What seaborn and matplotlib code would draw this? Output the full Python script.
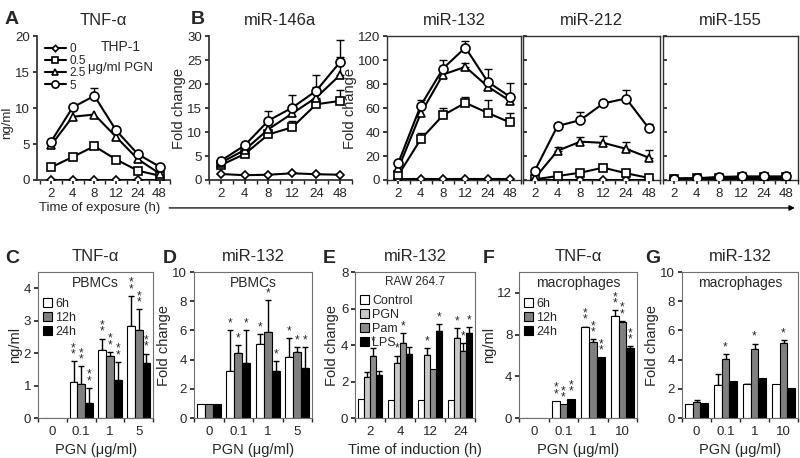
import numpy as np
import pandas as pd
import matplotlib.pyplot as plt
import seaborn as sns
from matplotlib.patches import Patch, FancyArrowPatch

sns.set_theme(style="ticks")
plt.rcParams["font.family"] = ["Liberation Sans", "DejaVu Sans"]
plt.rcParams["axes.edgecolor"] = "#303030"

nan = np.nan

# ---- top row: time course in THP-1 ----
times = ["2", "4", "8", "12", "24", "48"]
doses = ["0", "0.5", "2.5", "5"]
markers = ["D", "s", "^", "o"]
msizes = [4, 6, 6, 6.5]

tnf_thp1 = [
    [0, 0, 0, 0, 0, 0],
    [1.75, 3.2, 4.7, 2.85, 1.3, 0.6],
    [4.8, 8.8, 9.1, 6.0, 2.9, 0.9],
    [5.3, 10.1, 11.7, 6.9, 3.6, 1.85],
]
tnf_thp1_top = [
    [nan] * 6,
    [nan, nan, 4.95, nan, nan, nan],
    [nan, nan, nan, nan, nan, nan],
    [nan, nan, 12.8, nan, nan, nan],
]

mir146 = [
    [1.25, 1.0, 1.1, 1.4, 1.2, 1.1],
    [3.1, 5.4, 9.5, 11.0, 15.8, 16.5],
    [3.6, 6.25, 10.6, 13.9, 17.2, 21.9],
    [4.0, 7.2, 12.4, 15.1, 18.6, 24.6],
]
mir146_top = [
    [nan] * 6,
    [nan, nan, nan, 12.3, nan, 18.7],
    [nan, nan, nan, nan, 19.3, 25.7],
    [nan, 7.9, 14.4, 17.8, 22.0, 29.2],
]

mir132 = [
    [0.5, 0.5, 0.5, 0.5, 0.5, 0.5],
    [4.2, 34, 54, 64.4, 56, 48],
    [9.7, 55.5, 88, 94.4, 78, 66],
    [14.4, 62, 93, 110.5, 82, 69.4],
]
mir132_top = [
    [nan] * 6,
    [nan, 39, 59.7, 69.4, 67, 56],
    [nan, nan, nan, 98, nan, nan],
    [nan, 66.7, 100, 116, 93, 81],
]

mir212 = [
    [0.3, 0.3, 0.3, 0.3, 0.3, 0.3],
    [0.5, 3.3, 6.1, 10.3, 5.6, 1.7],
    [1.4, 24.4, 32, 31, 26, 18.6],
    [7.5, 45, 50, 63.9, 68, 43],
]
mir212_top = [
    [nan] * 6,
    [nan, nan, nan, 13.3, 8.3, nan],
    [nan, 27.8, 35.5, 37, 31.4, 25],
    [nan, nan, 57, nan, 75, 47],
]

mir155 = [
    [0.5, 0.5, 0.5, 0.5, 0.5, 0.5],
    [1.0, 1.3, 2.0, 2.3, 2.3, 2.5],
    [1.0, 1.2, 1.8, 1.8, 1.8, 2.0],
    [1.2, 1.5, 2.5, 3.0, 3.0, 3.0],
]
mir155_top = [[nan] * 6 for _ in range(4)]

# ---- bottom row: bar charts ----
pgn_c = ["0", "0.1", "1", "5"]
pgn_f = ["0", "0.1", "1", "10"]
hours = ["6h", "12h", "24h"]
hour_colors = ["white", "#808080", "black"]

c_vals = [[0, 1.11, 2.11, 2.85], [0, 1.06, 1.9, 2.73], [0, 0.46, 1.19, 1.7]]
c_top = [[nan, 1.75, 2.45, 3.76], [nan, 1.6, 2.04, 3.35], [nan, 0.93, 1.73, 1.99]]
c_star = [[0, 1, 1, 1], [0, 1, 1, 1], [0, 1, 1, 1]]

d_vals = [[1.0, 3.26, 5.1, 4.2], [1.0, 4.45, 5.9, 4.55], [1.0, 3.77, 3.2, 3.4]]
d_top = [[nan, 6.0, 5.78, 5.5], [nan, 5.0, 8.1, 4.85], [nan, 6.0, 3.9, 4.85]]
d_star = [[0, 1, 1, 1], [0, 1, 1, 1], [0, 1, 1, 1]]

e_times = ["2", "4", "12", "24"]
e_groups = ["Control", "PGN", "Pam", "LPS"]
e_colors = ["white", "#c8c8c8", "#8c8c8c", "black"]
e_vals = [[1.06, 1.0, 1.0, 1.0], [2.28, 3.0, 3.47, 4.38],
          [3.43, 4.1, 2.7, 3.7], [2.34, 3.5, 4.75, 4.65]]
e_top = [[nan] * 4, [2.5, 3.43, 3.85, 4.95],
         [3.85, 4.68, nan, 4.1], [2.6, 3.9, 5.17, 5.0]]
e_star = [[0, 0, 0, 0], [0, 1, 1, 1], [1, 1, 0, 1], [0, 0, 1, 1]]

f_vals = [[0, 1.65, 8.7, 9.78], [0, 1.33, 7.34, 9.24], [0, 1.87, 5.82, 6.77]]
f_top = [[nan, nan, 8.77, 10.35], [nan, nan, 7.56, 9.33], [nan, nan, nan, 6.87]]
f_star = [[0, 1, 1, 1], [0, 1, 1, 1], [0, 1, 1, 1]]

g_vals = [[1.0, 2.25, 2.32, 2.32], [1.09, 4.07, 4.7, 5.16], [1.02, 2.55, 2.77, 2.05]]
g_top = [[nan, 3.0, 2.36, nan], [1.23, 4.36, 5.1, 5.32], [nan, nan, nan, nan]]
g_star = [[0, 0, 0, 0], [0, 1, 1, 1], [0, 0, 0, 0]]

TICK_FS = 9.5
LAB_FS = 10.5


def up_err(ax, x, y, top, cap=3):
    x = np.asarray(x, float)
    y = np.asarray(y, float)
    top = np.asarray(top, float)
    ok = ~np.isnan(top)
    if ok.any():
        ax.errorbar(x[ok], y[ok], yerr=[np.zeros(ok.sum()), top[ok] - y[ok]],
                    fmt="none", ecolor="black", elinewidth=1, capsize=cap,
                    capthick=1, zorder=1)


def line_panel(ax, series, tops, ylim, yticks, xlim=(-0.5, 5.5)):
    xpos = np.arange(len(times))
    handles = []
    for vals, top, m, ms in zip(series, tops, markers, msizes):
        up_err(ax, xpos, vals, top)
        sns.lineplot(x=xpos, y=vals, ax=ax, color="black", linewidth=1.5,
                     marker=m, markersize=ms, markerfacecolor="white",
                     markeredgecolor="black", markeredgewidth=1.2, zorder=3,
                     legend=False)
        handles.append(ax.lines[-1])
    ax.set_xlim(*xlim)
    ax.set_ylim(*ylim)
    ax.set_yticks(yticks)
    ax.set_xticks(xpos)
    ax.set_xticklabels(times)
    ax.set_xticks(np.arange(-0.5, len(times)), minor=True)
    ax.tick_params(axis="x", which="both", length=3, labelsize=TICK_FS, pad=3)
    ax.tick_params(axis="y", length=3, labelsize=TICK_FS, pad=2)
    ax.set_xlabel("")
    return handles


def bar_panel(ax, cats, groups, colors, vals, tops, stars, star_txt, ylim, yticks):
    rows = []
    for g, gv in zip(groups, vals):
        for c, v in zip(cats, gv):
            rows.append({"cat": c, "group": g, "val": v})
    df = pd.DataFrame(rows)
    sns.barplot(data=df, x="cat", y="val", hue="group", order=cats,
                hue_order=groups, palette=dict(zip(groups, colors)),
                edgecolor="black", linewidth=0.8, width=0.8, errorbar=None,
                legend=False, ax=ax, zorder=2)
    for cont, gt, gs in zip(ax.containers, tops, stars):
        for bar, t, s in zip(cont, gt, gs):
            x = bar.get_x() + bar.get_width() / 2
            h = bar.get_height()
            up_err(ax, [x], [h], [t], cap=2.5)
            if s:
                yy = h if np.isnan(t) else t
                ax.text(x, yy + 0.005 * (ylim[1] - ylim[0]), star_txt,
                        ha="center", va="bottom", fontsize=8.5,
                        linespacing=0.38)
    ax.set_ylim(*ylim)
    ax.set_yticks(yticks)
    ax.set_xlim(-0.5, len(cats) - 0.5)
    ax.set_xticks(np.arange(-0.5, len(cats)), minor=True)
    ax.tick_params(axis="x", which="major", length=0, labelsize=TICK_FS, pad=6)
    ax.tick_params(axis="x", which="minor", length=3)
    ax.tick_params(axis="y", length=3, labelsize=TICK_FS, pad=2)
    for sp in ax.spines.values():
        sp.set_color("#707070")
        sp.set_linewidth(0.8)
    ax.set_ylabel("")
    ax.set_xlabel("")


def bar_legend(ax, groups, colors, loc_y, fs=9):
    hs = [Patch(facecolor=c, edgecolor="black", linewidth=0.8) for c in colors]
    ax.legend(hs, groups, loc="upper left", bbox_to_anchor=(0.0, loc_y),
              frameon=False, fontsize=fs, handlelength=0.7, handleheight=0.8,
              handletextpad=0.25, labelspacing=0.15, borderaxespad=0.2,
              borderpad=0.2)


fig = plt.figure(figsize=(8, 4.58), dpi=100)

top_b, top_h = 0.607, 0.314
axA = fig.add_axes([0.046, top_b, 0.167, top_h])
axB1 = fig.add_axes([0.261, top_b, 0.179, top_h])
axB2 = fig.add_axes([0.484, top_b, 0.1675, top_h])
axB3 = fig.add_axes([0.654, top_b, 0.1715, top_h])
axB4 = fig.add_axes([0.829, top_b, 0.168, top_h])

bot_b, bot_h = 0.087, 0.319
axC = fig.add_axes([0.0475, bot_b, 0.144, bot_h])
axD = fig.add_axes([0.2425, bot_b, 0.1475, bot_h])
axE = fig.add_axes([0.444, bot_b, 0.150, bot_h])
axF = fig.add_axes([0.649, bot_b, 0.1475, bot_h])
axG = fig.add_axes([0.8525, bot_b, 0.145, bot_h])

# A
hA = line_panel(axA, tnf_thp1, tnf_thp1_top, (0, 20), [0, 5, 10, 15, 20],
                xlim=(-0.65, 5.4))
sns.despine(ax=axA)
axA.set_ylabel("ng/ml", fontsize=9.5)
axA.yaxis.set_label_coords(-0.175, 0.40)
axA.set_title("TNF-α", fontsize=12, pad=8)
axA.legend(hA, doses, loc="upper left", bbox_to_anchor=(0.04, 0.97),
           frameon=False, fontsize=8.5, handlelength=1.8, labelspacing=0.02,
           handletextpad=0.3, borderpad=0.1, borderaxespad=0.1,
           markerscale=0.8)
axA.text(0.63, 0.97, "THP-1", transform=axA.transAxes, ha="center",
         va="top", fontsize=10)
axA.text(0.38, 0.82, "μg/ml PGN", transform=axA.transAxes, ha="left",
         va="top", fontsize=9.5)

# B
line_panel(axB1, mir146, mir146_top, (0, 30), range(0, 31, 5),
           xlim=(-0.2, 5.3))
sns.despine(ax=axB1)
axB1.set_ylabel("Fold change", fontsize=LAB_FS, labelpad=1)
axB1.set_title("miR-146a", fontsize=12, pad=8)

for ax, ser, tp, ttl in [(axB2, mir132, mir132_top, "miR-132"),
                         (axB3, mir212, mir212_top, "miR-212"),
                         (axB4, mir155, mir155_top, "miR-155")]:
    line_panel(ax, ser, tp, (0, 120), range(0, 121, 20))
    ax.set_title(ttl, fontsize=12, pad=8)
    for sp in ax.spines.values():
        sp.set_linewidth(1.0)
axB2.set_ylabel("Fold change", fontsize=LAB_FS, labelpad=1)
for ax in (axB3, axB4):
    ax.tick_params(axis="y", direction="in", labelleft=False)
    ax.set_ylabel("")

# time arrow
fig.text(0.124, 0.545, "Time of exposure (h)", ha="center", va="center",
         fontsize=9.5)
fig.patches.append(FancyArrowPatch(
    (0.208, 0.546), (0.997, 0.546), transform=fig.transFigure,
    arrowstyle="-|>", mutation_scale=8, color="black", linewidth=0.9))

# C
bar_panel(axC, pgn_c, hours, hour_colors, c_vals, c_top, c_star, "*\n*",
          (0, 4.5), [0, 1, 2, 3, 4])
axC.set_title("TNF-α", fontsize=12, pad=8)
axC.set_ylabel("ng/ml", fontsize=LAB_FS, labelpad=1)
axC.set_xlabel("PGN (μg/ml)", fontsize=LAB_FS, labelpad=3)
axC.text(0.5, 0.97, "PBMCs", transform=axC.transAxes, ha="center",
         va="top", fontsize=10)
bar_legend(axC, hours, hour_colors, 0.86)

# D
bar_panel(axD, pgn_c, hours, hour_colors, d_vals, d_top, d_star, "*",
          (0, 10), [0, 2, 4, 6, 8, 10])
axD.set_title("miR-132", fontsize=12, pad=8)
axD.set_ylabel("Fold change", fontsize=LAB_FS, labelpad=1)
axD.set_xlabel("PGN (μg/ml)", fontsize=LAB_FS, labelpad=3)
axD.text(0.5, 0.97, "PBMCs", transform=axD.transAxes, ha="center",
         va="top", fontsize=10)

# E
bar_panel(axE, e_times, e_groups, e_colors, e_vals, e_top, e_star, "*",
          (0, 8), [0, 2, 4, 6, 8])
axE.set_title("miR-132", fontsize=12, pad=8)
axE.set_ylabel("Fold change", fontsize=LAB_FS, labelpad=1)
axE.set_xlabel("Time of induction (h)", fontsize=LAB_FS, labelpad=3)
axE.text(0.5, 0.97, "RAW 264.7", transform=axE.transAxes, ha="center",
         va="top", fontsize=8.5)
bar_legend(axE, e_groups, e_colors, 0.88, fs=9)

# F
bar_panel(axF, pgn_f, hours, hour_colors, f_vals, f_top, f_star, "*\n*",
          (0, 14), [0, 4, 8, 12])
axF.set_title("TNF-α", fontsize=12, pad=8)
axF.set_ylabel("ng/ml", fontsize=LAB_FS, labelpad=1)
axF.set_xlabel("PGN (μg/ml)", fontsize=LAB_FS, labelpad=3)
axF.text(0.5, 0.97, "macrophages", transform=axF.transAxes, ha="center",
         va="top", fontsize=10)
bar_legend(axF, hours, hour_colors, 0.86)

# G
bar_panel(axG, pgn_f, hours, hour_colors, g_vals, g_top, g_star, "*",
          (0, 10), [0, 2, 4, 6, 8, 10])
axG.set_title("miR-132", fontsize=12, pad=8)
axG.set_ylabel("Fold change", fontsize=LAB_FS, labelpad=1)
axG.set_xlabel("PGN (μg/ml)", fontsize=LAB_FS, labelpad=3)
axG.text(0.5, 0.97, "macrophages", transform=axG.transAxes, ha="center",
         va="top", fontsize=10)

# panel letters
for lab, x, y in [("A", 0.006, 0.975), ("B", 0.238, 0.975), ("C", 0.006, 0.455),
                  ("D", 0.203, 0.455), ("E", 0.403, 0.455), ("F", 0.603, 0.455),
                  ("G", 0.806, 0.455)]:
    fig.text(x, y, lab, fontsize=14, fontweight="bold", ha="left", va="top")

fig.savefig("out.png", dpi=100)
